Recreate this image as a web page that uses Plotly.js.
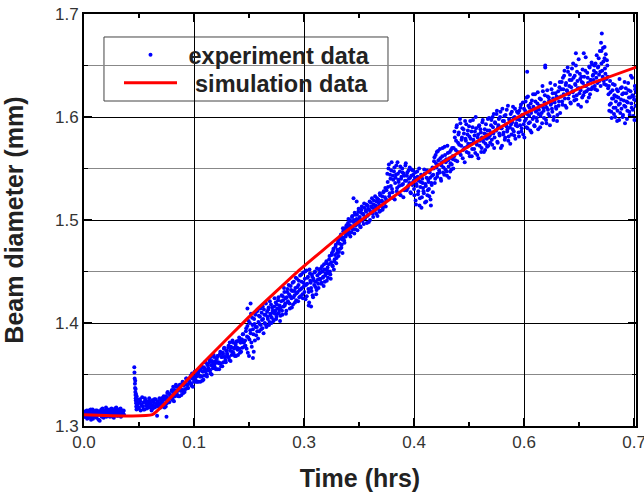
<!DOCTYPE html>
<html>
<head>
<meta charset="utf-8">
<script src="https://cdn.plot.ly/plotly-3.0.1.min.js"></script>
<style>html,body{margin:0;padding:0;background:#fff;}</style>
</head>
<body>
<div id="chart" style="width:644px;height:495px;"></div>
<script>
// ---------- experiment data (by segment) ----------
const expX_A = [0.000,0.001,0.002,0.003,0.004,0.005,0.006,0.007,0.008,0.009,0.010,0.011,0.012,0.013,0.014,0.015,0.016,0.017,0.018,0.019,0.020,0.021,0.022,0.023,0.024,0.025,0.026,0.027,0.028,0.029,0.030,0.031,0.032,0.033,0.034,0.035,0.036,0.037,0.038,0.039,0.040,0.041,0.042,0.043,0.044,0.045,0.046,0.047,0.048,0.049,0.050,0.051];
const expY_A = [1.311,1.314,1.309,1.313,1.307,1.312,1.315,1.310,1.313,1.306,1.312,1.316,1.309,1.313,1.311,1.315,1.308,1.313,1.311,1.314,1.305,1.312,1.316,1.310,1.313,1.308,1.315,1.312,1.318,1.310,1.314,1.311,1.316,1.309,1.313,1.317,1.311,1.314,1.308,1.315,1.312,1.318,1.310,1.314,1.316,1.311,1.313,1.309,1.315,1.312,1.314,1.311];
const expX_A2 = [0.0005,0.0015,0.0025,0.0035,0.0045,0.0055,0.0065,0.0075,0.0085,0.0095,0.0105,0.0115,0.0125,0.0135,0.0145,0.0155,0.0165,0.0175,0.0185,0.0195,0.0205,0.0215,0.0225,0.0235,0.0245,0.0255,0.0265,0.0275,0.0285,0.0295,0.0305,0.0315,0.0325,0.0335,0.0345,0.0355,0.0365,0.0375,0.0385,0.0395,0.0405,0.0415,0.0425,0.0435,0.0445,0.0455,0.0465,0.0475,0.0485,0.0495,0.0505];
const expY_A2 = [1.313,1.309,1.312,1.315,1.310,1.308,1.314,1.311,1.316,1.309,1.312,1.307,1.314,1.311,1.313,1.310,1.315,1.312,1.306,1.314,1.311,1.313,1.309,1.317,1.312,1.310,1.314,1.313,1.309,1.316,1.312,1.310,1.315,1.313,1.311,1.316,1.309,1.314,1.312,1.317,1.311,1.313,1.315,1.310,1.314,1.312,1.317,1.310,1.313,1.311,1.315];

const expX_B = [0.0640,0.0642,0.0645,0.0648,0.0650,0.0652,0.0653,0.0655,0.0657,0.0658,0.0660,0.0662,0.0663,0.0665,0.0667,0.0668,0.0670,0.0672,0.0673,0.0675,0.0678,0.0680];
const expY_B = [1.357,1.352,1.346,1.341,1.337,1.344,1.333,1.330,1.336,1.327,1.325,1.331,1.322,1.319,1.324,1.316,1.329,1.323,1.318,1.320,1.326,1.317];

const expX_C = [0.069,0.070,0.071,0.072,0.073,0.074,0.075,0.076,0.077,0.078,0.079,0.080,0.081,0.082,0.083,0.084,0.085,0.086,0.087,0.088,0.089,0.090,0.091,0.092,0.093,0.094,0.095,0.096,0.097,0.098,0.099,0.100];
const expY_C = [1.322,1.318,1.326,1.315,1.321,1.328,1.319,1.323,1.316,1.325,1.320,1.317,1.324,1.321,1.327,1.318,1.322,1.315,1.325,1.320,1.323,1.318,1.326,1.321,1.310,1.324,1.319,1.327,1.322,1.325,1.319,1.324];
const expX_C2 = [0.0695,0.0715,0.0735,0.0755,0.0775,0.0795,0.0815,0.0835,0.0855,0.0875,0.0895,0.0915,0.0935,0.0955,0.0975,0.0995];
const expY_C2 = [1.317,1.324,1.320,1.316,1.327,1.322,1.318,1.324,1.320,1.317,1.326,1.319,1.323,1.321,1.318,1.327];

const expX_D = [0.101,0.102,0.103,0.104,0.105,0.106,0.107,0.108,0.109,0.110,0.111,0.112,0.113,0.114,0.115,0.116,0.117,0.118,0.119,0.120,0.121,0.122,0.123,0.124,0.125,0.126,0.127,0.128,0.129,0.130,0.131,0.132,0.133,0.134,0.135,0.136,0.137,0.138,0.139,0.140,0.141,0.142,0.143,0.144,0.145,0.146,0.147,0.148,0.149,0.150,0.151,0.152,0.153,0.154,0.155,0.156,0.157,0.158,0.159,0.160,0.161,0.162,0.163,0.164,0.165,0.166,0.167,0.168,0.169,0.170,0.171,0.172,0.173,0.174,0.175,0.176,0.177,0.178,0.179,0.180,0.181,0.182,0.183,0.184,0.185,0.186,0.187,0.188,0.189,0.190,0.191,0.192,0.193,0.194,0.195,0.196,0.197,0.198,0.199,0.200,0.201,0.202,0.203,0.204];
const expY_D = [1.328,1.321,1.326,1.319,1.328,1.332,1.326,1.324,1.331,1.329,1.327,1.335,1.325,1.332,1.335,1.329,1.340,1.331,1.334,1.329,1.337,1.340,1.335,1.330,1.341,1.335,1.339,1.333,1.342,1.346,1.340,1.337,1.345,1.342,1.341,1.349,1.339,1.346,1.348,1.343,1.353,1.345,1.348,1.343,1.351,1.353,1.349,1.343,1.356,1.348,1.353,1.345,1.356,1.362,1.353,1.350,1.360,1.356,1.354,1.364,1.351,1.359,1.363,1.356,1.369,1.358,1.361,1.355,1.365,1.368,1.362,1.355,1.370,1.361,1.367,1.358,1.370,1.375,1.367,1.364,1.373,1.370,1.367,1.378,1.364,1.373,1.377,1.369,1.383,1.371,1.375,1.368,1.379,1.382,1.376,1.369,1.383,1.375,1.381,1.372,1.384,1.389,1.381,1.377];
const expX_D2 = [0.1005,0.1015,0.1025,0.1035,0.1045,0.1055,0.1065,0.1075,0.1085,0.1095,0.1105,0.1115,0.1125,0.1135,0.1145,0.1155,0.1165,0.1175,0.1185,0.1195,0.1205,0.1215,0.1225,0.1235,0.1245,0.1255,0.1265,0.1275,0.1285,0.1295,0.1305,0.1315,0.1325,0.1335,0.1345,0.1355,0.1365,0.1375,0.1385,0.1395,0.1405,0.1415,0.1425,0.1435,0.1445,0.1455,0.1465,0.1475,0.1485,0.1495,0.1505,0.1515,0.1525,0.1535,0.1545,0.1555,0.1565,0.1575,0.1585,0.1595,0.1605,0.1615,0.1625,0.1635,0.1645,0.1655,0.1665,0.1675,0.1685,0.1695,0.1705,0.1715,0.1725,0.1735,0.1745,0.1755,0.1765,0.1775,0.1785,0.1795,0.1805,0.1815,0.1825,0.1835,0.1845,0.1855,0.1865,0.1875,0.1885,0.1895,0.1905,0.1915,0.1925,0.1935,0.1945,0.1955,0.1965,0.1975,0.1985,0.1995,0.2005,0.2015,0.2025,0.2035];
const expY_D2 = [1.321,1.329,1.318,1.326,1.329,1.322,1.333,1.326,1.323,1.330,1.329,1.334,1.327,1.338,1.324,1.334,1.331,1.338,1.330,1.335,1.338,1.329,1.340,1.334,1.335,1.343,1.332,1.340,1.342,1.336,1.346,1.340,1.337,1.344,1.343,1.347,1.341,1.351,1.338,1.348,1.345,1.352,1.343,1.349,1.351,1.343,1.354,1.348,1.348,1.358,1.344,1.353,1.357,1.349,1.362,1.354,1.348,1.359,1.356,1.362,1.354,1.367,1.350,1.362,1.359,1.367,1.356,1.363,1.366,1.355,1.368,1.361,1.361,1.372,1.358,1.367,1.371,1.362,1.376,1.367,1.362,1.373,1.370,1.376,1.367,1.381,1.363,1.376,1.372,1.381,1.370,1.376,1.380,1.368,1.382,1.374,1.375,1.386,1.371,1.381,1.384,1.376,1.389,1.381];

const expX_E = [0.205,0.206,0.207,0.208,0.209,0.210,0.211,0.212,0.213,0.214,0.215,0.216,0.217,0.218,0.219,0.220,0.221,0.222,0.223,0.224,0.225,0.226,0.227,0.228,0.229,0.230,0.231,0.232,0.233,0.234,0.235,0.236,0.237,0.238,0.239,0.240,0.241,0.242,0.243,0.244,0.245,0.246,0.247,0.248,0.249,0.250];
const expY_E = [1.383,1.392,1.375,1.397,1.386,1.368,1.400,1.390,1.381,1.405,1.394,1.372,1.399,1.408,1.388,1.396,1.412,1.401,1.392,1.406,1.398,1.410,1.395,1.404,1.413,1.400,1.408,1.396,1.411,1.404,1.415,1.401,1.409,1.418,1.405,1.412,1.402,1.416,1.409,1.420,1.406,1.414,1.422,1.410,1.417,1.407];
const expX_E2 = [0.2055,0.2065,0.2075,0.2085,0.2095,0.2105,0.2115,0.2125,0.2135,0.2145,0.2155,0.2165,0.2175,0.2185,0.2195,0.2205,0.2215,0.2225,0.2235,0.2245,0.2255,0.2265,0.2275,0.2285,0.2295,0.2305,0.2315,0.2325,0.2335,0.2345,0.2355,0.2365,0.2375,0.2385,0.2395,0.2405,0.2415,0.2425,0.2435,0.2445,0.2455,0.2465,0.2475,0.2485,0.2495];
const expY_E2 = [1.378,1.395,1.387,1.371,1.402,1.384,1.393,1.409,1.377,1.398,1.389,1.404,1.383,1.396,1.411,1.392,1.385,1.407,1.399,1.414,1.394,1.403,1.416,1.390,1.408,1.399,1.419,1.397,1.406,1.413,1.398,1.421,1.407,1.400,1.415,1.410,1.403,1.424,1.412,1.404,1.418,1.409,1.425,1.413,1.402];

const expX_F = [0.251,0.252,0.253,0.254,0.255,0.256,0.257,0.258,0.259,0.260,0.261,0.262,0.263,0.264,0.265,0.266,0.267,0.268,0.269,0.270,0.271,0.272,0.273,0.274,0.275,0.276,0.277,0.278,0.279,0.280,0.281,0.282,0.283,0.284,0.285,0.286,0.287,0.288,0.289,0.290,0.291,0.292,0.293,0.294,0.295,0.296,0.297,0.298,0.299,0.300];
const expY_F = [1.421,1.412,1.426,1.416,1.430,1.419,1.409,1.425,1.433,1.420,1.428,1.414,1.436,1.424,1.431,1.418,1.440,1.427,1.434,1.422,1.443,1.430,1.437,1.425,1.446,1.433,1.440,1.428,1.449,1.436,1.443,1.423,1.451,1.438,1.445,1.430,1.452,1.441,1.434,1.447,1.427,1.443,1.437,1.450,1.440,1.432,1.446,1.438,1.452,1.443];
const expX_F2 = [0.2505,0.2515,0.2525,0.2535,0.2545,0.2555,0.2565,0.2575,0.2585,0.2595,0.2605,0.2615,0.2625,0.2635,0.2645,0.2655,0.2665,0.2675,0.2685,0.2695,0.2705,0.2715,0.2725,0.2735,0.2745,0.2755,0.2765,0.2775,0.2785,0.2795,0.2805,0.2815,0.2825,0.2835,0.2845,0.2855,0.2865,0.2875,0.2885,0.2895,0.2905,0.2915,0.2925,0.2935,0.2945,0.2955,0.2965,0.2975,0.2985,0.2995];
const expY_F2 = [1.415,1.427,1.408,1.422,1.434,1.417,1.424,1.412,1.430,1.421,1.437,1.419,1.426,1.432,1.415,1.439,1.425,1.431,1.420,1.444,1.429,1.435,1.421,1.441,1.432,1.426,1.447,1.434,1.424,1.439,1.430,1.450,1.437,1.426,1.444,1.433,1.420,1.448,1.439,1.431,1.445,1.425,1.441,1.449,1.435,1.428,1.453,1.442,1.434,1.448];

const expX_G = [0.301,0.302,0.303,0.304,0.305,0.306,0.307,0.308,0.309,0.310,0.311,0.312,0.313,0.314,0.315,0.316,0.317,0.318,0.319,0.320,0.321,0.322,0.323,0.324,0.325,0.326,0.327,0.328,0.329,0.330,0.331,0.332,0.333,0.334,0.335];
const expY_G = [1.449,1.438,1.455,1.444,1.436,1.452,1.446,1.458,1.441,1.454,1.448,1.462,1.450,1.443,1.466,1.456,1.470,1.452,1.462,1.474,1.458,1.468,1.478,1.465,1.482,1.472,1.486,1.476,1.468,1.489,1.480,1.492,1.484,1.495,1.487];
const expX_G2 = [0.3005,0.3015,0.3025,0.3035,0.3045,0.3055,0.3065,0.3075,0.3085,0.3095,0.3105,0.3115,0.3125,0.3135,0.3145,0.3155,0.3165,0.3175,0.3185,0.3195,0.3205,0.3215,0.3225,0.3235,0.3245,0.3255,0.3265,0.3275,0.3285,0.3295,0.3305,0.3315,0.3325,0.3335,0.3345];
const expY_G2 = [1.442,1.453,1.439,1.450,1.445,1.457,1.440,1.448,1.460,1.451,1.444,1.457,1.465,1.447,1.459,1.468,1.455,1.472,1.460,1.466,1.476,1.463,1.471,1.480,1.469,1.477,1.484,1.473,1.481,1.492,1.483,1.478,1.490,1.486,1.494];

const expX_H = [0.336,0.337,0.338,0.339,0.340,0.341,0.342,0.343,0.344,0.345,0.346,0.347,0.348,0.349,0.350,0.351,0.352,0.353,0.354,0.355,0.356,0.357,0.358,0.359,0.360,0.361,0.362,0.363,0.364,0.365,0.366,0.367,0.368,0.369,0.370,0.371,0.372,0.373,0.374,0.375,0.376,0.377,0.378,0.379,0.380,0.381,0.382,0.383,0.384,0.385];
const expY_H = [1.497,1.489,1.500,1.484,1.493,1.503,1.491,1.498,1.487,1.505,1.495,1.501,1.490,1.508,1.497,1.503,1.493,1.510,1.500,1.506,1.496,1.512,1.502,1.508,1.497,1.514,1.505,1.510,1.500,1.517,1.507,1.512,1.503,1.519,1.509,1.514,1.506,1.521,1.511,1.517,1.508,1.524,1.514,1.519,1.510,1.527,1.516,1.522,1.513,1.529];
const expX_H2 = [0.3355,0.3365,0.3375,0.3385,0.3395,0.3405,0.3415,0.3425,0.3435,0.3445,0.3455,0.3465,0.3475,0.3485,0.3495,0.3505,0.3515,0.3525,0.3535,0.3545,0.3555,0.3565,0.3575,0.3585,0.3595,0.3605,0.3615,0.3625,0.3635,0.3645,0.3655,0.3665,0.3675,0.3685,0.3695,0.3705,0.3715,0.3725,0.3735,0.3745,0.3755,0.3765,0.3775,0.3785,0.3795,0.3805,0.3815,0.3825,0.3835,0.3845];
const expY_H2 = [1.492,1.501,1.486,1.495,1.499,1.488,1.504,1.494,1.500,1.507,1.491,1.499,1.505,1.496,1.511,1.501,1.494,1.507,1.513,1.499,1.505,1.516,1.502,1.509,1.515,1.504,1.511,1.498,1.518,1.508,1.513,1.521,1.506,1.515,1.510,1.523,1.512,1.518,1.504,1.520,1.514,1.526,1.509,1.518,1.523,1.512,1.528,1.517,1.531,1.520];

const expX_I = [0.386,0.387,0.388,0.389,0.390,0.391,0.392,0.393,0.394,0.395,0.396,0.397,0.398,0.399,0.400,0.401,0.402,0.403,0.404,0.405,0.406,0.407,0.408,0.409,0.410,0.411,0.412,0.413,0.414,0.415,0.416,0.417,0.418,0.419];
const expY_I = [1.545,1.532,1.554,1.526,1.540,1.548,1.530,1.543,1.521,1.551,1.536,1.544,1.528,1.556,1.539,1.533,1.547,1.524,1.542,1.550,1.535,1.545,1.529,1.553,1.538,1.543,1.531,1.548,1.536,1.541,1.526,1.549,1.534,1.544];
const expX_I2 = [0.3865,0.3875,0.3885,0.3895,0.3905,0.3915,0.3925,0.3935,0.3945,0.3955,0.3965,0.3975,0.3985,0.3995,0.4005,0.4015,0.4025,0.4035,0.4045,0.4055,0.4065,0.4075,0.4085,0.4095,0.4105,0.4115,0.4125,0.4135,0.4145,0.4155,0.4165,0.4175,0.4185];
const expY_I2 = [1.537,1.550,1.523,1.544,1.533,1.556,1.527,1.539,1.547,1.520,1.541,1.553,1.531,1.545,1.537,1.525,1.552,1.540,1.534,1.546,1.522,1.543,1.538,1.555,1.529,1.546,1.533,1.540,1.551,1.527,1.543,1.536,1.548];

const expX_J = [0.420,0.421,0.422,0.423,0.424,0.425,0.426,0.427,0.428,0.429,0.430,0.431,0.432,0.433,0.434,0.435,0.436,0.437,0.438,0.439,0.440,0.441,0.442,0.443,0.444];
const expY_J = [1.530,1.541,1.519,1.535,1.547,1.525,1.538,1.514,1.532,1.544,1.522,1.536,1.528,1.549,1.517,1.533,1.541,1.524,1.539,1.530,1.546,1.520,1.536,1.543,1.527];
const expX_J2 = [0.4195,0.4205,0.4215,0.4225,0.4235,0.4245,0.4255,0.4265,0.4275,0.4285,0.4295,0.4305,0.4315,0.4325,0.4335,0.4345,0.4355,0.4365,0.4375,0.4385,0.4395,0.4405,0.4415,0.4425,0.4435];
const expY_J2 = [1.538,1.524,1.546,1.515,1.533,1.542,1.528,1.550,1.521,1.537,1.512,1.540,1.531,1.526,1.545,1.535,1.518,1.548,1.529,1.537,1.523,1.541,1.514,1.534,1.551];

const expX_K = [0.445,0.446,0.447,0.448,0.449,0.450,0.451,0.452,0.453,0.454,0.455,0.456,0.457,0.458,0.459,0.460,0.461,0.462,0.463,0.464,0.465,0.466,0.467,0.468,0.469,0.470];
const expY_K = [1.550,1.561,1.540,1.555,1.566,1.545,1.558,1.548,1.569,1.540,1.553,1.562,1.546,1.557,1.571,1.549,1.559,1.543,1.565,1.552,1.560,1.547,1.568,1.554,1.562,1.550];
const expX_K2 = [0.4445,0.4455,0.4465,0.4475,0.4485,0.4495,0.4505,0.4515,0.4525,0.4535,0.4545,0.4555,0.4565,0.4575,0.4585,0.4595,0.4605,0.4615,0.4625,0.4635,0.4645,0.4655,0.4665,0.4675,0.4685,0.4695];
const expY_K2 = [1.544,1.557,1.536,1.563,1.551,1.542,1.567,1.554,1.546,1.560,1.538,1.556,1.570,1.551,1.544,1.563,1.556,1.547,1.572,1.558,1.541,1.566,1.555,1.549,1.570,1.559];

const expX_L = [0.471,0.472,0.473,0.474,0.475,0.476,0.477,0.478,0.479,0.480,0.481,0.482,0.483,0.484,0.485,0.486,0.487,0.488,0.489,0.490,0.491,0.492,0.493,0.494,0.495,0.496,0.497,0.498,0.499,0.500,0.501,0.502,0.503,0.504,0.505,0.506,0.507,0.508,0.509,0.510,0.511,0.512,0.513,0.514,0.515,0.516,0.517];
const expY_L = [1.562,1.580,1.568,1.590,1.557,1.575,1.585,1.565,1.594,1.572,1.580,1.560,1.588,1.570,1.596,1.577,1.566,1.583,1.574,1.591,1.562,1.579,1.586,1.569,1.597,1.576,1.582,1.565,1.589,1.573,1.580,1.560,1.592,1.577,1.585,1.570,1.595,1.579,1.566,1.588,1.574,1.583,1.571,1.598,1.580,1.587,1.575];
const expX_L2 = [0.4705,0.4715,0.4725,0.4735,0.4745,0.4755,0.4765,0.4775,0.4785,0.4795,0.4805,0.4815,0.4825,0.4835,0.4845,0.4855,0.4865,0.4875,0.4885,0.4895,0.4905,0.4915,0.4925,0.4935,0.4945,0.4955,0.4965,0.4975,0.4985,0.4995,0.5005,0.5015,0.5025,0.5035,0.5045,0.5055,0.5065,0.5075,0.5085,0.5095,0.5105,0.5115,0.5125,0.5135,0.5145,0.5155,0.5165];
const expY_L2 = [1.570,1.586,1.558,1.577,1.592,1.566,1.583,1.573,1.598,1.563,1.578,1.589,1.568,1.584,1.556,1.579,1.593,1.571,1.587,1.565,1.581,1.596,1.574,1.562,1.590,1.578,1.569,1.586,1.600,1.575,1.563,1.583,1.591,1.572,1.588,1.566,1.580,1.597,1.576,1.584,1.568,1.593,1.579,1.587,1.572,1.599,1.582];

const expX_M = [0.518,0.519,0.520,0.521,0.522,0.523,0.524,0.525,0.526,0.527,0.528,0.529,0.530,0.531,0.532,0.533,0.534,0.535,0.536,0.537,0.538,0.539,0.540,0.541,0.542,0.543,0.544,0.545,0.546,0.547,0.548,0.549,0.550,0.551];
const expY_M = [1.592,1.578,1.600,1.584,1.570,1.595,1.587,1.603,1.576,1.590,1.598,1.582,1.605,1.589,1.572,1.596,1.585,1.601,1.580,1.593,1.607,1.588,1.577,1.598,1.590,1.603,1.583,1.595,1.610,1.586,1.600,1.579,1.594,1.605];
const expX_M2 = [0.5175,0.5185,0.5195,0.5205,0.5215,0.5225,0.5235,0.5245,0.5255,0.5265,0.5275,0.5285,0.5295,0.5305,0.5315,0.5325,0.5335,0.5345,0.5355,0.5365,0.5375,0.5385,0.5395,0.5405,0.5415,0.5425,0.5435,0.5445,0.5455,0.5465,0.5475,0.5485,0.5495,0.5505];
const expY_M2 = [1.584,1.597,1.573,1.590,1.603,1.580,1.594,1.587,1.606,1.575,1.592,1.584,1.600,1.570,1.589,1.608,1.583,1.596,1.578,1.602,1.591,1.586,1.611,1.581,1.597,1.574,1.593,1.605,1.588,1.599,1.582,1.608,1.592,1.598];

const expX_N = [0.552,0.553,0.554,0.555,0.556,0.557,0.558,0.559,0.560,0.561,0.562,0.563,0.564,0.565,0.566,0.567,0.568,0.569,0.570,0.571,0.572,0.573,0.574,0.575,0.576,0.577,0.578,0.579,0.580,0.581,0.582,0.583,0.584,0.585,0.586,0.587,0.588,0.589,0.590,0.591,0.592,0.593,0.594,0.595,0.596,0.597,0.598,0.599,0.600,0.601,0.602,0.603,0.604,0.605,0.606];
const expY_N = [1.598,1.585,1.606,1.592,1.612,1.589,1.601,1.583,1.608,1.596,1.615,1.590,1.603,1.620,1.594,1.609,1.587,1.604,1.616,1.598,1.610,1.592,1.622,1.605,1.599,1.613,1.588,1.607,1.618,1.601,1.611,1.594,1.625,1.606,1.614,1.648,1.597,1.609,1.620,1.603,1.616,1.592,1.612,1.627,1.605,1.618,1.600,1.614,1.623,1.608,1.596,1.619,1.611,1.629,1.604];
const expX_N2 = [0.5515,0.5525,0.5535,0.5545,0.5555,0.5565,0.5575,0.5585,0.5595,0.5605,0.5615,0.5625,0.5635,0.5645,0.5655,0.5665,0.5675,0.5685,0.5695,0.5705,0.5715,0.5725,0.5735,0.5745,0.5755,0.5765,0.5775,0.5785,0.5795,0.5805,0.5815,0.5825,0.5835,0.5845,0.5855,0.5865,0.5875,0.5885,0.5895,0.5905,0.5915,0.5925,0.5935,0.5945,0.5955,0.5965,0.5975,0.5985,0.5995,0.6005,0.6015,0.6025,0.6035,0.6045,0.6055];
const expY_N2 = [1.591,1.604,1.581,1.597,1.609,1.586,1.602,1.614,1.593,1.580,1.606,1.598,1.619,1.589,1.611,1.601,1.595,1.613,1.585,1.607,1.622,1.600,1.591,1.615,1.606,1.596,1.624,1.603,1.611,1.590,1.617,1.604,1.630,1.609,1.599,1.621,1.612,1.594,1.626,1.607,1.619,1.601,1.633,1.613,1.608,1.623,1.597,1.616,1.631,1.610,1.620,1.602,1.625,1.615,1.634];

const expX_O = [0.607,0.608,0.609,0.610,0.611,0.612,0.613,0.614,0.615,0.616,0.617,0.618,0.619,0.620,0.621,0.622,0.623,0.624,0.625,0.626,0.627,0.628,0.629,0.630,0.631,0.632,0.633,0.634,0.635,0.636,0.637,0.638,0.639,0.640,0.641,0.642,0.643,0.644,0.645,0.646,0.647,0.648];
const expY_O = [1.620,1.634,1.612,1.627,1.640,1.618,1.631,1.609,1.625,1.644,1.622,1.636,1.614,1.629,1.647,1.624,1.638,1.616,1.632,1.650,1.621,1.635,1.612,1.628,1.642,1.626,1.639,1.619,1.633,1.662,1.624,1.645,1.630,1.615,1.638,1.627,1.649,1.622,1.636,1.653,1.629,1.641];
const expX_O2 = [0.6075,0.6085,0.6095,0.6105,0.6115,0.6125,0.6135,0.6145,0.6155,0.6165,0.6175,0.6185,0.6195,0.6205,0.6215,0.6225,0.6235,0.6245,0.6255,0.6265,0.6275,0.6285,0.6295,0.6305,0.6315,0.6325,0.6335,0.6345,0.6355,0.6365,0.6375,0.6385,0.6395,0.6405,0.6415,0.6425,0.6435,0.6445,0.6455,0.6465,0.6475];
const expY_O2 = [1.627,1.615,1.638,1.622,1.645,1.611,1.633,1.626,1.648,1.618,1.630,1.641,1.613,1.636,1.625,1.652,1.620,1.640,1.631,1.617,1.644,1.628,1.656,1.623,1.637,1.610,1.634,1.646,1.621,1.639,1.630,1.658,1.625,1.643,1.633,1.619,1.648,1.636,1.627,1.651,1.640];

const expX_P = [0.649,0.650,0.651,0.652,0.653,0.654,0.655,0.656,0.657,0.658,0.659,0.660,0.661,0.662,0.663,0.664,0.665,0.666,0.667];
const expY_P = [1.645,1.630,1.652,1.638,1.626,1.648,1.657,1.635,1.644,1.672,1.681,1.639,1.654,1.632,1.647,1.661,1.637,1.650,1.628];
const expX_P2 = [0.6485,0.6495,0.6505,0.6515,0.6525,0.6535,0.6545,0.6555,0.6565,0.6575,0.6585,0.6595,0.6605,0.6615,0.6625,0.6635,0.6645,0.6655,0.6665];
const expY_P2 = [1.636,1.650,1.627,1.643,1.660,1.633,1.649,1.641,1.664,1.630,1.652,1.645,1.667,1.635,1.657,1.642,1.631,1.655,1.639];

const expX_Q = [0.668,0.669,0.670,0.671,0.672,0.673,0.674,0.675,0.676,0.677,0.678,0.679,0.680,0.681,0.682,0.683,0.684,0.685,0.686,0.687,0.688,0.689,0.690,0.691,0.692,0.693,0.694,0.695,0.696,0.697,0.698,0.699,0.700,0.701,0.702,0.703];
const expY_Q = [1.630,1.612,1.624,1.605,1.618,1.632,1.609,1.621,1.600,1.615,1.627,1.606,1.619,1.597,1.613,1.628,1.608,1.622,1.602,1.616,1.634,1.610,1.623,1.598,1.614,1.626,1.605,1.619,1.640,1.609,1.621,1.601,1.617,1.630,1.611,1.624];
const expX_Q2 = [0.6675,0.6685,0.6695,0.6705,0.6715,0.6725,0.6735,0.6745,0.6755,0.6765,0.6775,0.6785,0.6795,0.6805,0.6815,0.6825,0.6835,0.6845,0.6855,0.6865,0.6875,0.6885,0.6895,0.6905,0.6915,0.6925,0.6935,0.6945,0.6955,0.6965,0.6975,0.6985,0.6995,0.7005,0.7015,0.7025];
const expY_Q2 = [1.622,1.606,1.635,1.613,1.599,1.626,1.618,1.603,1.631,1.609,1.620,1.596,1.625,1.612,1.637,1.604,1.617,1.629,1.600,1.623,1.611,1.594,1.628,1.615,1.606,1.633,1.619,1.602,1.625,1.613,1.638,1.607,1.620,1.597,1.627,1.616];

const expX_extra = [0.105,0.343,0.347,0.564,0.626,0.6585,0.6625,0.587,0.215,0.212,0.208,0.286,0.289];
const expY_extra = [1.309,1.521,1.518,1.644,1.662,1.664,1.668,1.650,1.366,1.419,1.414,1.417,1.416];

// ---------- simulation data ----------
const simX = [0.000,0.087,0.150,0.210,0.275,0.330,0.400,0.440,0.480,0.555,0.640,0.705];
const simY = [1.311,1.311,1.360,1.406,1.452,1.487,1.526,1.548,1.567,1.601,1.631,1.649];

// ---------- axes ----------
const xTickVals = [0.00,0.14,0.28,0.42,0.56,0.70];
const xTickText = ['0.0','0.1','0.3','0.4','0.6','0.7'];
const yTickVals = [1.3,1.4,1.5,1.6,1.7];
const yTickText = ['1.3','1.4','1.5','1.6','1.7'];
const legendNames = ['\u00a0experiment data', '\u00a0\u00a0simulation data'];

const expX = [].concat(expX_A,expX_A2,expX_B,expX_C,expX_C2,expX_D,expX_D2,expX_E,expX_E2,expX_F,expX_F2,expX_G,expX_G2,expX_H,expX_H2,expX_I,expX_I2,expX_J,expX_J2,expX_K,expX_K2,expX_L,expX_L2,expX_M,expX_M2,expX_N,expX_N2,expX_O,expX_O2,expX_P,expX_P2,expX_Q,expX_Q2,expX_extra);
const expY = [].concat(expY_A,expY_A2,expY_B,expY_C,expY_C2,expY_D,expY_D2,expY_E,expY_E2,expY_F,expY_F2,expY_G,expY_G2,expY_H,expY_H2,expY_I,expY_I2,expY_J,expY_J2,expY_K,expY_K2,expY_L,expY_L2,expY_M,expY_M2,expY_N,expY_N2,expY_O,expY_O2,expY_P,expY_P2,expY_Q,expY_Q2,expY_extra);

const FONT = 'Liberation Sans, Arial, Helvetica, sans-serif';

const traces = [
  {x: expX, y: expY, type:'scatter', mode:'markers', name:'<b>'+legendNames[0]+'</b>', legend:'legend',
   marker:{color:'#0000ff', size:4, line:{width:0}}, cliponaxis:true},
  {x: simX, y: simY, type:'scatter', mode:'lines', name:'<b>'+legendNames[1]+'</b>', legend:'legend2',
   line:{color:'#ff0000', width:3, shape:'spline', smoothing:0.3}}
];

const axisCommon = {
  ticks:'inside', ticklen:8, tickwidth:1.5, tickcolor:'#000',
  showline:true, linewidth:2, linecolor:'#000', mirror:'allticks',
  showgrid:true, gridcolor:'#000', gridwidth:1, zeroline:false,
  tickfont:{family:FONT, size:17, color:'#333'}
};

const legendCommon = {xanchor:'left', yanchor:'middle', bgcolor:'rgba(0,0,0,0)', borderwidth:0,
                      itemwidth:53, font:{family:FONT, size:23.5, color:'#222'}};

const layout = {
  width:644, height:495,
  margin:{l:84, r:8, t:14, b:69, pad:0},
  paper_bgcolor:'#fff', plot_bgcolor:'#fff',
  font:{family:FONT, color:'#222'},
  showlegend:true,
  legend:Object.assign({}, legendCommon, {x:0.0634, y:0.9005}),
  legend2:Object.assign({}, legendCommon, {x:0.0634, y:0.8325}),
  shapes:[{type:'rect', xref:'paper', yref:'paper', x0:0.0362, x1:0.5507, y0:0.7888, y1:0.9442,
           line:{color:'#444', width:1}, fillcolor:'#fff', layer:'between'}],
  xaxis:Object.assign({}, axisCommon, {
    range:[0,0.7025], tickmode:'array', tickvals:xTickVals, ticktext:xTickText, ticklabeloverflow:'allow',
    minor:{tick0:0, dtick:0.07, ticks:'inside', ticklen:4, tickwidth:1.5, tickcolor:'#000', showgrid:false},
    title:{text:'<b>Time (hrs)</b>', font:{family:FONT, size:25, color:'#222'}, standoff:18}
  }),
  yaxis:Object.assign({}, axisCommon, {
    range:[1.3,1.7], tickmode:'array', tickvals:yTickVals, ticktext:yTickText,
    minor:{tick0:1.3, dtick:0.05, ticks:'inside', ticklen:4, tickwidth:1.5, tickcolor:'#000', showgrid:true, gridcolor:'#888', gridwidth:1},
    title:{text:'<b>Beam diameter (mm)</b>', font:{family:FONT, size:25, color:'#222'}, standoff:24}
  })
};

Plotly.newPlot('chart', traces, layout, {displayModeBar:false, staticPlot:true});
</script>
</body>
</html>
